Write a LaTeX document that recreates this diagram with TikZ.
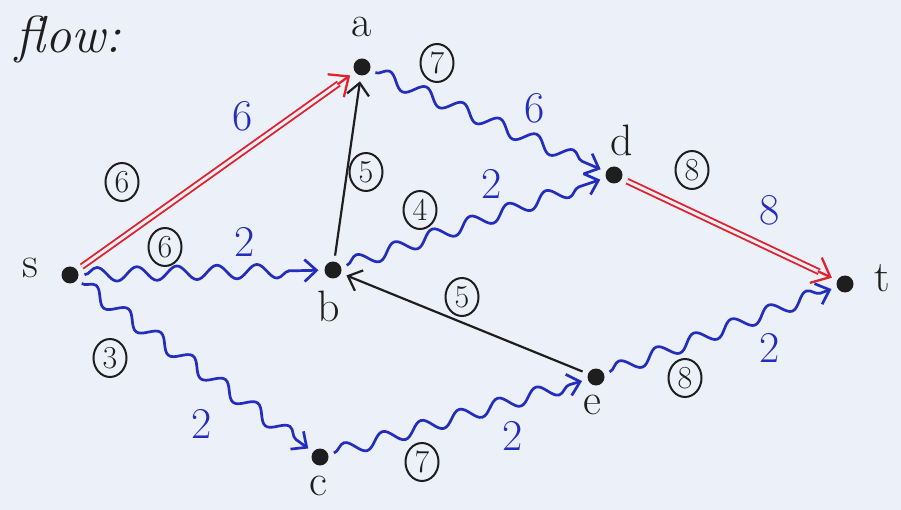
\documentclass[tikz,border=0pt]{standalone}
\usetikzlibrary{decorations.pathmorphing,arrows.meta,calc,shapes.geometric}
\definecolor{pen}{RGB}{35,45,190}
\definecolor{redpen}{RGB}{225,35,45}
\definecolor{ink}{RGB}{30,30,30}
\definecolor{paper}{RGB}{236,240,248}
\begin{document}
\begin{tikzpicture}[x=1pt,y=-1pt,
 vtx/.style={circle,fill=ink,minimum size=17pt,inner sep=0pt,outer sep=6pt},
 lbl/.style={font=\fontsize{44}{46}\selectfont, text=ink},
 capc/.style={ellipse,draw=ink,line width=2pt,inner sep=0pt,minimum width=33pt,minimum height=38pt,font=\fontsize{32}{34}\selectfont,text=ink},
 flw/.style={font=\fontsize{44}{46}\selectfont,text=pen},
 wavy/.style={draw=pen,line width=2.7pt,decorate,
   decoration={snake,amplitude=7pt,segment length=40pt,post length=10pt},
   -{Straight Barb[length=12pt,width=22pt,line width=2.7pt]}},
 plain/.style={draw=ink,line width=2.2pt,
   -{Straight Barb[length=12pt,width=22pt,line width=2.2pt]}},
 dbl/.style={draw=redpen,line width=1.9pt,double=paper,double distance=3pt,
   shorten >=14pt},
 redtip/.style={draw=redpen,line width=2.3pt,
   -{Straight Barb[length=16pt,width=28pt,line width=2.3pt]}}
]
\fill[paper] (0,0) rectangle (901,510);
\useasboundingbox (0,0) rectangle (901,510);

% vertices
\node[vtx] (s) at (70,275) {};
\node[vtx] (a) at (362,67) {};
\node[vtx] (b) at (333,270) {};
\node[vtx] (c) at (320,457) {};
\node[vtx] (d) at (614,175) {};
\node[vtx] (e) at (596,377) {};
\node[vtx] (t) at (845,284) {};

% vertex labels
\node[lbl] (ls) at (30,268) {s};
\node[lbl,anchor=base] (la) at (362,37) {a};
\node[lbl] (lb) at (329,306) {b};
\node[lbl] (lc) at (318,486) {c};
\node[lbl] (ld) at (622,140) {d};
\node[lbl] (le) at (592,405) {e};
\node[lbl] (lt) at (882,278) {t};
\node[font=\fontsize{52}{54}\selectfont\itshape,text=ink,anchor=west] (title) at (12,40) {flow:};

% edges
\draw[dbl] (s) -- (a);
\coordinate (sa) at ($(a.center)!30pt!(s.center)$);
\draw[redtip] (sa) -- (a);
\draw[dbl] (d) -- (t);
\coordinate (dt) at ($(t.center)!30pt!(d.center)$);
\draw[redtip] (dt) -- (t);

\draw[wavy] (s) -- (b);
\draw[wavy] (s) -- (c);
\draw[wavy] (a) -- (d);
\draw[wavy] (b) -- (d);
\draw[wavy] (c) -- (e);
\draw[wavy] (e) -- (t);

\draw[plain] (b) -- (a);
\draw[plain] (e) -- (b);

% capacities
\node[capc] (c1) at (122,182) {6};
\node[capc] (c2) at (165,247) {6};
\node[capc] (c3) at (110,358) {3};
\node[capc] (c4) at (366,172) {5};
\node[capc] (c5) at (420,210) {4};
\node[capc] (c6) at (437,63) {7};
\node[capc] (c7) at (462,297) {5};
\node[capc] (c8) at (422,462) {7};
\node[capc] (c9) at (692,170) {8};
\node[capc] (c10) at (685,378) {8};

% flows
\node[flw] (f1) at (243,116) {6};
\node[flw] (f2) at (245,242) {2};
\node[flw] (f3) at (202,424) {2};
\node[flw] (f4) at (492,184) {2};
\node[flw] (f5) at (535,108) {6};
\node[flw] (f6) at (513,436) {2};
\node[flw] (f7) at (770,210) {8};
\node[flw] (f8) at (770,348) {2};
\end{tikzpicture}
\end{document}
